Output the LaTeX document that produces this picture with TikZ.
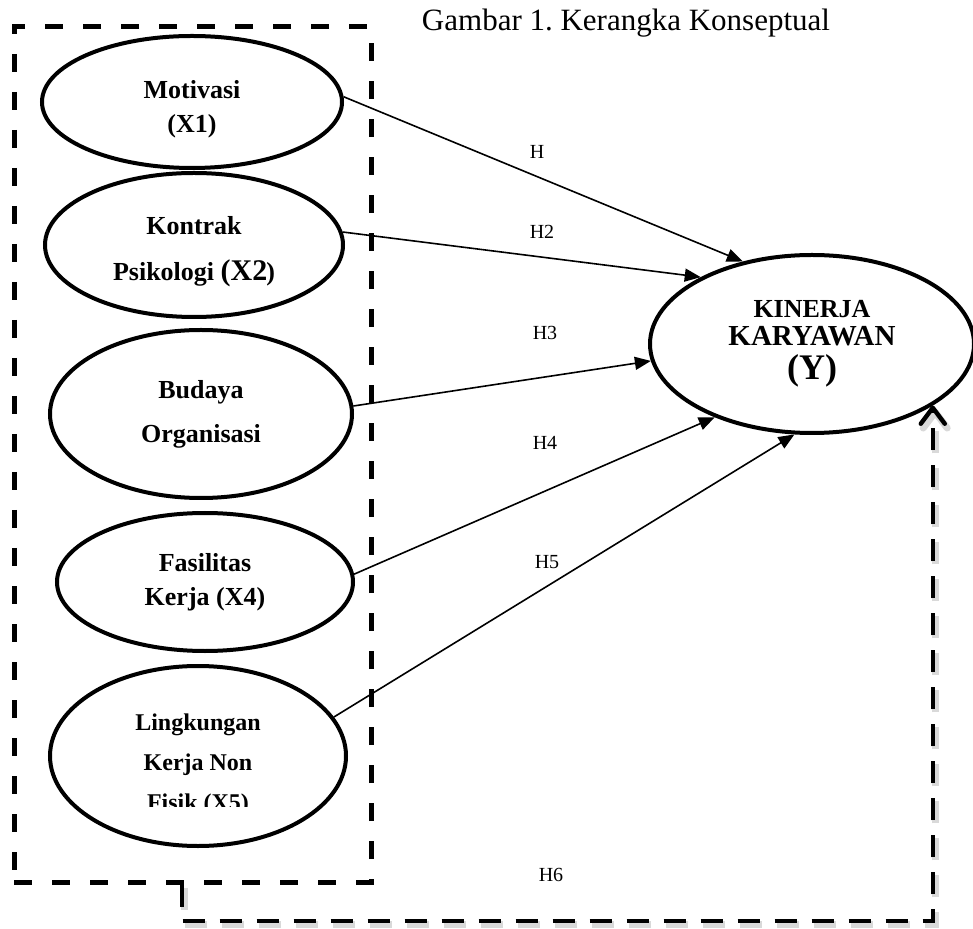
\documentclass[tikz,border=0pt]{standalone}
\usepackage{fontspec}
\setmainfont{Liberation Serif}
\usetikzlibrary{shapes.geometric,arrows.meta,fit}
\frenchspacing

\begin{document}
\begin{tikzpicture}[x=0.5pt,y=-0.5pt,
var/.style={draw, ellipse, line width=2pt, align=center, inner sep=0pt, font=\bfseries\fontsize{13}{17}\selectfont},
hyp/.style={-{Triangle[length=8pt,width=6.5pt]}, line width=0.8pt},
hlab/.style={font=\fontsize{10}{12}\selectfont},
grpbox/.style={draw, line width=2.5pt, dash pattern=on 9pt off 10pt, inner sep=0pt},
back/.style={line width=2.2pt, dash pattern=on 11pt off 7.5pt, -{Straight Barb[round,length=8pt,width=12pt]},
  preaction={draw=black!15, line width=3.5pt, dash pattern=on 11pt off 7.5pt, transform canvas={shift={(1.2pt,-1.5pt)}}}}
]
\useasboundingbox (0,0) rectangle (973,929);

\node[font=\fontsize{15.5}{18}\selectfont, anchor=base] (ttl) at (626,31) {Gambar 1. Kerangka Konseptual};

\coordinate (gtl) at (14,27);
\coordinate (gbr) at (371,882);
\node[grpbox, fit=(gtl)(gbr)] (grp) {};

\node[var, minimum width=150pt, minimum height=66pt] (mot) at (192,102) {\rule{0pt}{16pt}Motivasi\\(X1)};
\node[var, minimum width=149pt, minimum height=72pt] (kon) at (194,245) {\rule{0pt}{16pt}Kontrak\\[6pt]Psikologi {\fontsize{15}{17}\selectfont(X2}\kern-.5pt)};
\node[var, minimum width=151pt, minimum height=84pt] (bud) at (201,414) {Budaya\\[5pt]Organisasi};
\node[var, minimum width=148pt, minimum height=69pt] (fas) at (205,582) {Fasilitas\\Kerja (X4)};
\node[var, minimum width=148pt, minimum height=90pt, font=\bfseries\fontsize{12}{17}\selectfont] (lin) at (198,756) {\rule{0pt}{17pt}Lingkungan\\[3pt]Kerja Non\\[3pt]Fisik (X5)};
\fill[white] (140,807) rectangle (262,825);

\node[var, minimum width=162pt, minimum height=89pt] (kin) at (812,344)
  {{\fontsize{13}{15}\selectfont KINERJA}\\[-3pt]{\fontsize{14.5}{15}\selectfont KARYAWAN}\\[0pt]{\fontsize{18}{15}\selectfont (Y)}};

\draw[hyp] (mot.2) -- (kin.130);
\draw[hyp] (kon.5) -- (kin.149);
\draw[hyp] (bud.3) -- (kin.186);
\draw[hyp] (fas.3) -- (kin.217);
\draw[hyp] (lin.16) -- (kin.259);

\node[hlab] (h1) at (537,152) {H};
\node[hlab] (h2) at (542,232) {H2};
\node[hlab] (h3) at (545,333) {H3};
\node[hlab] (h4) at (545,443) {H4};
\node[hlab] (h5) at (547,562) {H5};
\node[hlab] (h6) at (551,875) {H6};

\coordinate (c6) at (182,921);
\draw[back] (grp.south -| c6) -- (c6) -| (kin.-27);
\end{tikzpicture}
\end{document}
